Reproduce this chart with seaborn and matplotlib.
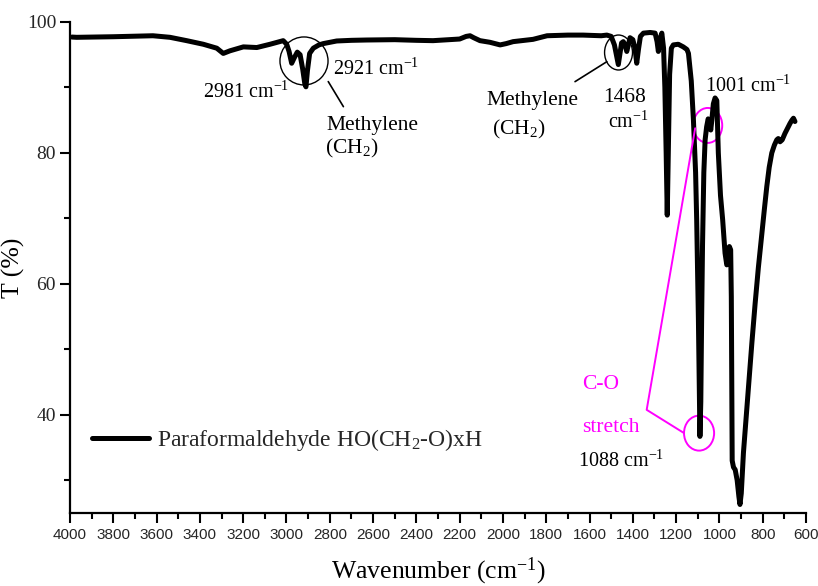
import matplotlib
matplotlib.use("Agg")
import matplotlib.pyplot as plt
from matplotlib.patches import Ellipse
from matplotlib.ticker import MultipleLocator
import seaborn as sns
import pandas as pd

# ---------------- data ----------------
wavenumber = [3991, 3969, 3800, 3617, 3538, 3461, 3384, 3322, 3292, 3261, 3199, 3137, 3076, 3015,
              2999, 2988, 2976, 2963, 2950, 2937, 2925, 2915, 2910, 2903, 2893, 2876, 2850, 2830,
              2768, 2700, 2629, 2500, 2400, 2323, 2200, 2170, 2152, 2135, 2106, 2060, 2013, 1985,
              1953, 1900, 1861, 1820, 1796, 1700, 1630, 1546, 1520, 1500, 1485, 1473, 1467, 1460,
              1452, 1444, 1436, 1428, 1420, 1413, 1400, 1390, 1382, 1374, 1365, 1351, 1320, 1297,
              1288, 1282, 1276, 1266, 1258, 1252, 1246, 1241, 1236, 1230, 1222, 1213, 1190, 1167,
              1150, 1143, 1130, 1120, 1110, 1105, 1097, 1092, 1090, 1086, 1082, 1078, 1072, 1066,
              1059, 1052, 1045, 1040, 1035, 1028, 1020, 1012, 1005, 995, 985, 974, 966, 960,
              954, 948, 945, 943, 941, 935, 927, 918, 910, 905, 899, 889, 878, 866,
              850, 835, 820, 804, 792, 781, 770, 758, 746, 735, 728, 720, 710, 697,
              685, 674, 665, 658, 651]
transmittance = [97.7, 97.66, 97.75, 97.9, 97.66, 97.15, 96.6, 96.0, 95.2, 95.6, 96.2, 96.1, 96.6, 97.15,
                 96.6, 95.5, 93.7, 94.6, 95.4, 95.0, 92.8, 90.5, 90.1, 92.6, 95.2, 96.0, 96.5, 96.7,
                 97.1, 97.2, 97.25, 97.3, 97.2, 97.15, 97.4, 97.8, 97.9, 97.6, 97.15, 96.9, 96.5, 96.7,
                 97.0, 97.2, 97.35, 97.7, 97.9, 98.0, 98.0, 97.9, 98.0, 97.8, 96.5, 94.5, 93.5, 95.0,
                 96.8, 97.0, 96.5, 95.5, 96.6, 97.6, 97.3, 96.0, 93.7, 95.8, 97.8, 98.3, 98.4, 98.3,
                 97.0, 95.5, 97.3, 98.3, 96.0, 90.0, 80.0, 70.5, 80.0, 92.0, 96.0, 96.5, 96.6, 96.2,
                 95.8, 95.2, 91.0, 85.0, 77.0, 69.8, 54.5, 42.0, 36.7, 42.0, 55.0, 66.0, 77.0, 82.0,
                 84.0, 85.2, 84.5, 83.5, 85.0, 87.5, 88.4, 88.0, 80.0, 73.5, 69.8, 64.7, 62.9, 63.2,
                 65.7, 65.2, 58.0, 45.0, 33.0, 32.0, 31.6, 30.0, 27.5, 26.3, 28.0, 34.2, 39.0, 44.3,
                 51.0, 57.0, 62.5, 67.7, 71.5, 74.9, 77.8, 80.0, 81.2, 82.0, 82.2, 81.7, 82.0, 83.0,
                 83.8, 84.5, 85.0, 85.3, 84.8]
series_label = r"Paraformaldehyde HO(CH$_2$-O)xH"
x_ticks = [4000, 3800, 3600, 3400, 3200, 3000, 2800, 2600, 2400, 2200, 2000,
           1800, 1600, 1400, 1200, 1000, 800, 600]
y_ticks = [40, 60, 80, 100]

# ---------------- style ----------------
sns.set_theme(style="ticks")
plt.rcParams["font.family"] = ["Liberation Serif", "DejaVu Serif"]
plt.rcParams["mathtext.fontset"] = "custom"
plt.rcParams["mathtext.rm"] = "Liberation Serif"
plt.rcParams["mathtext.it"] = "Liberation Serif:italic"
plt.rcParams["mathtext.bf"] = "Liberation Serif:bold"

W, H = 818, 586
fig = plt.figure(figsize=(W / 100, H / 100), dpi=100)
ax = fig.add_axes([70 / W, 1 - 513 / H, 736 / W, 491 / H])

df = pd.DataFrame({"Wavenumber": wavenumber, "T": transmittance})
sns.lineplot(data=df, x="Wavenumber", y="T", sort=False, estimator=None,
             color="black", linewidth=3.6, ax=ax, label=series_label)
for ln in ax.get_lines():
    ln.set_solid_joinstyle("round")
    ln.set_solid_capstyle("round")

ax.set_xlim(4000, 600)
ax.set_ylim(25, 100)
ax.set_xticks(x_ticks)
ax.set_yticks(y_ticks)
ax.xaxis.set_minor_locator(MultipleLocator(100))
ax.yaxis.set_minor_locator(MultipleLocator(10))
sns.despine(ax=ax)
for s in ["left", "bottom"]:
    ax.spines[s].set_linewidth(1.6)
    ax.spines[s].set_color("black")
ax.tick_params(axis="both", which="major", direction="out", length=7, width=1.5, color="black")
ax.tick_params(axis="both", which="minor", direction="out", length=4, width=1.5, color="black")
ax.tick_params(axis="y", labelsize=14, pad=3)
ax.tick_params(axis="x", labelsize=11, pad=4)
for lab in ax.get_xticklabels():
    lab.set_fontfamily(["Liberation Sans Narrow", "Liberation Sans", "DejaVu Sans"])

ax.set_xlabel(r"Wavenumber (cm$^{-1}$)", fontsize=18.5, labelpad=9.5, color="black")
ax.set_ylabel("T (%)", fontsize=18.5, labelpad=1, color="black")

ax.legend(loc="center left", bbox_to_anchor=(0.0299, 0.1487), frameon=False,
          fontsize=17, handlelength=2.4, handletextpad=0.35, borderpad=0, borderaxespad=0)

# ---------------- annotations ----------------
FS = 14.5
FS_WORD = 15.5
MAG = "#FF00FF"
def txt(x, y, s, c="black", fs=FS):
    ax.text(x, y, s, fontsize=fs, color=c, ha="left", va="baseline")

txt(3386, 88.35, r"2981 cm$^{-1}$")
txt(2785, 91.9, r"2921 cm$^{-1}$")
txt(2814, 83.5, "Methylene", fs=FS_WORD)
txt(2822, 79.95, r"(CH$_2$)", fs=FS_WORD)
txt(2075, 87.3, "Methylene", fs=FS_WORD)
txt(2052, 82.75, r"(CH$_2$)", fs=FS_WORD)
txt(1536, 87.8, "1468", fs=FS_WORD)
txt(1513, 83.8, r"cm$^{-1}$")
txt(1066, 89.4, r"1001 cm$^{-1}$")
txt(1636, 43.9, "C-O", MAG, fs=FS_WORD)
txt(1636, 37.35, "stretch", MAG, fs=FS_WORD)
txt(1652, 32.1, r"1088 cm$^{-1}$")

ax.add_patch(Ellipse((2919, 94.05), 222, 7.33, fill=False, edgecolor="black", lw=1.0))
ax.add_patch(Ellipse((1466, 95.34), 129, 5.34, fill=False, edgecolor="black", lw=1.0))
ax.plot([2807, 2737], [90.9, 87.07], color="black", lw=1.2)
ax.plot([1520, 1667], [93.94, 90.89], color="black", lw=1.2)

ax.add_patch(Ellipse((1054, 84.2), 134, 5.34, fill=False, edgecolor=MAG, lw=1.4))
ax.add_patch(Ellipse((1094, 37.2), 139, 5.34, fill=False, edgecolor=MAG, lw=1.4))
ax.plot([1112, 1336, 1163], [83.77, 40.76, 37.2], color=MAG, lw=1.4)

fig.savefig("out.png", dpi=100)
